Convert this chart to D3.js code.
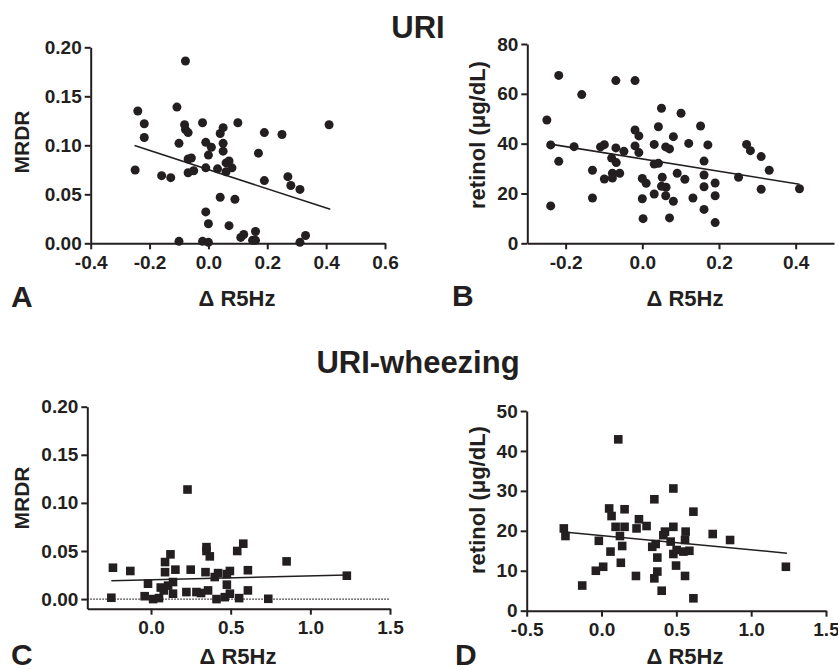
<!DOCTYPE html>
<html>
<head>
<meta charset="utf-8">
<script src="https://cdn.jsdelivr.net/npm/d3@7"></script>
<style>
  body { margin: 0; background: #fff; }
  svg { display: block; }
  text { font-family: "Liberation Sans", Arial, sans-serif; font-weight: bold; fill: #231f20; }
</style>
</head>
<body>
<svg id="chart" width="838" height="670"></svg>
<script>
// URI: MRDR vs delta R5Hz (panel A)
var uriMrdr = [
  [-0.249,0.0748],[-0.240,0.135],[-0.218,0.122],[-0.218,0.108],[-0.078,0.186],
  [-0.107,0.139],[-0.081,0.121],[-0.078,0.116],[-0.069,0.113],[-0.100,0.102],
  [-0.159,0.069],[-0.128,0.067],[-0.069,0.086],[-0.058,0.087],[-0.069,0.072],
  [-0.050,0.074],[-0.020,0.123],[-0.009,0.103],[0.010,0.098],[0.000,0.090],
  [-0.009,0.077],[0.031,0.076],[0.040,0.112],[0.050,0.118],[0.050,0.102],
  [0.050,0.094],[0.060,0.082],[0.070,0.084],[0.080,0.077],[0.060,0.073],
  [0.100,0.123],[0.040,0.047],[0.090,0.045],[-0.009,0.032],[0.000,0.020],
  [0.070,0.018],[-0.100,0.002],[-0.020,0.002],[0.000,0.001],[0.110,0.006],
  [0.120,0.009],[0.160,0.012],[0.160,0.003],[0.150,0.003],[0.170,0.092],
  [0.190,0.113],[0.190,0.064],[0.250,0.111],[0.270,0.068],[0.280,0.059],
  [0.311,0.055],[0.311,0.001],[0.330,0.008],[0.410,0.121]
];
var uriMrdrFit = [[-0.251,0.0997],[0.414,0.0347]];

// URI: retinol vs delta R5Hz (panel B)
var uriRetinol = [
  [-0.249,49.5],[-0.239,39.5],[-0.239,15.0],[-0.218,67.4],[-0.218,32.9],
  [-0.178,38.8],[-0.158,59.7],[-0.130,29.3],[-0.130,18.2],[-0.109,38.7],
  [-0.099,39.6],[-0.099,25.8],[-0.080,34.2],[-0.078,28.1],[-0.078,26.2],
  [-0.069,38.3],[-0.068,32.4],[-0.069,65.3],[-0.059,28.1],[-0.048,36.9],
  [-0.019,65.3],[-0.019,45.5],[-0.009,43.1],[-0.019,39.1],[-0.009,36.4],
  [0.000,26.0],[0.010,24.1],[0.000,17.9],[0.002,9.9],[0.031,39.7],
  [0.031,31.8],[0.042,46.8],[0.042,32.1],[0.031,19.8],[0.050,54.2],
  [0.052,26.5],[0.050,22.9],[0.062,22.5],[0.061,38.7],[0.071,37.9],
  [0.061,19.1],[0.081,42.8],[0.081,16.9],[0.071,10.2],[0.091,28.1],
  [0.101,52.2],[0.111,25.7],[0.121,40.1],[0.132,18.2],[0.152,47.1],
  [0.161,33.0],[0.161,27.4],[0.161,22.7],[0.161,13.6],[0.171,39.5],
  [0.190,24.2],[0.190,19.1],[0.190,8.3],[0.251,26.5],[0.272,39.7],
  [0.282,37.2],[0.310,34.8],[0.310,21.7],[0.331,29.3],[0.410,21.9]
];
var uriRetinolFit = [[-0.248,40.0],[0.410,23.7]];

// URI-wheezing: MRDR vs delta R5Hz (panel C)
var wheezeMrdr = [
  [-0.239,0.0326],[-0.249,0.0014],[-0.130,0.0292],[-0.019,0.016],[-0.040,0.003],
  [0.013,0.000],[0.050,0.001],[0.061,0.012],[0.088,0.0385],[0.088,0.028],
  [0.080,0.009],[0.122,0.0465],[0.107,0.014],[0.138,0.0177],[0.153,0.0306],
  [0.138,0.0056],[0.229,0.1139],[0.222,0.0073],[0.249,0.0306],[0.285,0.0073],
  [0.314,0.0063],[0.348,0.054],[0.348,0.050],[0.342,0.028],[0.369,0.0444],
  [0.358,0.009],[0.400,0.0229],[0.421,0.027],[0.411,0.000],[0.495,0.0292],
  [0.476,0.026],[0.476,0.015],[0.463,0.002],[0.495,0.0056],[0.541,0.050],
  [0.579,0.0576],[0.553,0.001],[0.608,0.030],[0.608,0.009],[0.736,0.0003],
  [0.851,0.0392],[1.229,0.0243]
];
var wheezeMrdrFit = [[-0.249,0.0191],[1.229,0.025]];

// URI-wheezing: retinol vs delta R5Hz (panel D)
var wheezeRetinol = [
  [-0.252,20.6],[-0.241,18.7],[-0.129,6.3],[-0.038,10.0],[-0.018,17.5],
  [0.011,11.0],[0.060,14.8],[0.051,25.6],[0.067,23.7],[0.094,21.0],
  [0.112,42.9],[0.123,18.7],[0.129,12.0],[0.138,16.2],[0.154,25.4],
  [0.154,21.0],[0.230,8.7],[0.234,20.6],[0.250,22.9],[0.301,21.2],
  [0.353,27.9],[0.339,16.0],[0.362,16.7],[0.353,8.1],[0.373,13.3],
  [0.373,9.8],[0.402,5.0],[0.413,18.9],[0.424,19.8],[0.462,17.3],
  [0.480,30.6],[0.480,21.0],[0.480,14.2],[0.502,15.2],[0.498,11.3],
  [0.547,14.8],[0.558,17.7],[0.562,19.8],[0.558,8.7],[0.587,15.0],
  [0.614,24.8],[0.614,3.1],[0.743,19.2],[0.859,17.7],[1.232,11.0]
];
var wheezeRetinolFit = [[-0.252,19.7],[1.239,14.4]];

// tick values and labels
var mrdrTicks = [0, 0.05, 0.10, 0.15, 0.20];
var mrdrLabels = ["0.00", "0.05", "0.10", "0.15", "0.20"];
var uriRetinolTicks = [0, 20, 40, 60, 80];
var wheezeRetinolTicks = [0, 10, 20, 30, 40, 50];
var xTicksA = [-0.4, -0.2, 0, 0.2, 0.4, 0.6];
var xLabelsA = ["-0.4", "-0.2", "0.0", "0.2", "0.4", "0.6"];
var xTicksB = [-0.2, 0, 0.2, 0.4];
var xLabelsB = ["-0.2", "0.0", "0.2", "0.4"];
var xTicksC = [0, 0.5, 1.0, 1.5];
var xLabelsC = ["0.0", "0.5", "1.0", "1.5"];
var xTicksD = [-0.5, 0, 0.5, 1.0, 1.5];
var xLabelsD = ["-0.5", "0.0", "0.5", "1.0", "1.5"];

var ink = "#231f20";
var svg = d3.select("#chart");

function drawPanel(p) {
  var x = d3.scaleLinear().domain(p.xDomain).range(p.xRange);
  var y = d3.scaleLinear().domain(p.yDomain).range(p.yRange);
  var g = svg.append("g");

  // dotted zero line (panel C)
  if (p.zeroLine) {
    g.append("line")
      .attr("x1", p.xRange[0]).attr("x2", p.xRange[1])
      .attr("y1", y(0)).attr("y2", y(0))
      .attr("stroke", ink).attr("stroke-width", 1.2)
      .attr("stroke-dasharray", "1.5,1.5");
  }

  // x axis
  g.append("g")
    .attr("transform", "translate(0," + p.yRange[0] + ")")
    .call(d3.axisBottom(x)
      .tickValues(p.xTicks)
      .tickFormat(function(d, i) { return p.xLabels[i]; })
      .tickSize(6).tickSizeOuter(0).tickPadding(6))
    .call(function(a) {
      a.select(".domain").attr("stroke", ink).attr("stroke-width", 2);
      a.selectAll(".tick line").attr("stroke", ink).attr("stroke-width", 2);
      a.selectAll(".tick text").attr("font-size", 19).attr("fill", ink)
        .attr("font-family", null);
    });

  // y axis
  g.append("g")
    .attr("transform", "translate(" + p.xRange[0] + ",0)")
    .call(d3.axisLeft(y)
      .tickValues(p.yTicks)
      .tickFormat(function(d, i) { return p.yLabels[i]; })
      .tickSize(6).tickSizeOuter(0).tickPadding(3))
    .call(function(a) {
      a.select(".domain").attr("stroke", ink).attr("stroke-width", 2);
      a.selectAll(".tick line").attr("stroke", ink).attr("stroke-width", 2);
      a.selectAll(".tick text").attr("font-size", 19).attr("fill", ink)
        .attr("font-family", null);
    });

  // points
  if (p.shape == "square") {
    g.selectAll("rect.pt")
      .data(p.points)
      .enter().append("rect")
      .attr("class", "pt")
      .attr("x", function(d) { return x(d[0]) - 4.3; })
      .attr("y", function(d) { return y(d[1]) - 4.3; })
      .attr("width", 8.6).attr("height", 8.6)
      .attr("fill", ink);
  } else {
    g.selectAll("circle.pt")
      .data(p.points)
      .enter().append("circle")
      .attr("class", "pt")
      .attr("cx", function(d) { return x(d[0]); })
      .attr("cy", function(d) { return y(d[1]); })
      .attr("r", 4.5)
      .attr("fill", ink);
  }

  // regression line
  g.append("path")
    .datum(p.fit)
    .attr("fill", "none")
    .attr("stroke", ink)
    .attr("stroke-width", 1.6)
    .attr("d", d3.line().x(function(d) { return x(d[0]); }).y(function(d) { return y(d[1]); }));

  // axis titles
  g.append("text")
    .attr("transform", "translate(" + p.yTitlePos[0] + "," + p.yTitlePos[1] + ") rotate(-90)")
    .attr("text-anchor", "middle")
    .attr("dominant-baseline", "central")
    .attr("font-size", p.yTitleSize)
    .text(p.yTitle);

  g.append("text")
    .attr("x", p.xTitlePos[0]).attr("y", p.xTitlePos[1])
    .attr("text-anchor", "middle")
    .attr("font-size", 22)
    .text("\u0394 R5Hz");

  // panel letter
  g.append("text")
    .attr("x", p.letterPos[0]).attr("y", p.letterPos[1])
    .attr("font-size", 30)
    .text(p.letter);
}

// section titles
svg.append("text").attr("x", 418).attr("y", 38)
  .attr("text-anchor", "middle").attr("font-size", 31).text("URI");
svg.append("text").attr("x", 418).attr("y", 373)
  .attr("text-anchor", "middle").attr("font-size", 31).text("URI-wheezing");

drawPanel({
  points: uriMrdr, fit: uriMrdrFit, shape: "circle",
  xDomain: [-0.4, 0.6], xRange: [90.7, 385],
  yDomain: [0, 0.2], yRange: [243.3, 47.3],
  xTicks: xTicksA, xLabels: xLabelsA, yTicks: mrdrTicks, yLabels: mrdrLabels,
  yTitle: "MRDR", yTitleSize: 21, yTitlePos: [21, 142],
  xTitlePos: [237, 306], letter: "A", letterPos: [11, 307]
});

drawPanel({
  points: uriRetinol, fit: uriRetinolFit, shape: "circle",
  xDomain: [-0.3, 0.5], xRange: [527.3, 834],
  yDomain: [0, 80], yRange: [243.3, 44],
  xTicks: xTicksB, xLabels: xLabelsB,
  yTicks: uriRetinolTicks, yLabels: uriRetinolTicks.map(String),
  yTitle: "retinol (\u03bcg/dL)", yTitleSize: 22, yTitlePos: [477, 135],
  xTitlePos: [685, 306], letter: "B", letterPos: [452, 306]
});

drawPanel({
  points: wheezeMrdr, fit: wheezeMrdrFit, shape: "square", zeroLine: true,
  xDomain: [-0.4, 1.5], xRange: [87.3, 390],
  yDomain: [-0.01, 0.2], yRange: [608.7, 406.7],
  xTicks: xTicksC, xLabels: xLabelsC, yTicks: mrdrTicks, yLabels: mrdrLabels,
  yTitle: "MRDR", yTitleSize: 21, yTitlePos: [21, 498],
  xTitlePos: [238, 664], letter: "C", letterPos: [11, 665]
});

drawPanel({
  points: wheezeRetinol, fit: wheezeRetinolFit, shape: "square",
  xDomain: [-0.5, 1.5], xRange: [526.7, 826],
  yDomain: [0, 50], yRange: [610.7, 411],
  xTicks: xTicksD, xLabels: xLabelsD,
  yTicks: wheezeRetinolTicks, yLabels: wheezeRetinolTicks.map(String),
  yTitle: "retinol (\u03bcg/dL)", yTitleSize: 22, yTitlePos: [477, 500],
  xTitlePos: [685, 664], letter: "D", letterPos: [455, 665]
});
</script>
</body>
</html>
